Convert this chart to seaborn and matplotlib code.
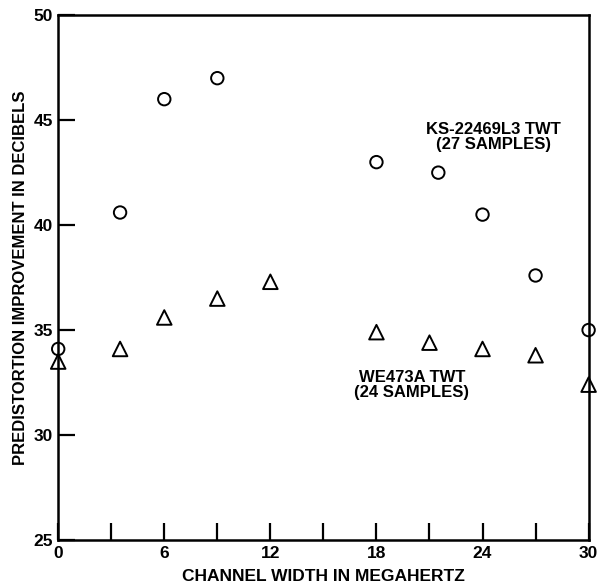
import pandas as pd
import seaborn as sns
import matplotlib.pyplot as plt

# KS-22469L3 TWT (27 samples)
ks_width = [0, 3.5, 6, 9, 18, 21.5, 24, 27, 30]
ks_db = [34.1, 40.6, 46.0, 47.0, 43.0, 42.5, 40.5, 37.6, 35.0]

# WE473A TWT (24 samples)
we_width = [0, 3.5, 6, 9, 12, 18, 21, 24, 27, 30]
we_db = [33.5, 34.1, 35.6, 36.5, 37.3, 34.9, 34.4, 34.1, 33.8, 32.4]

ks = pd.DataFrame({"width": ks_width, "db": ks_db})
we = pd.DataFrame({"width": we_width, "db": we_db})

sns.set_style("white")
plt.rcParams["font.family"] = ["Liberation Sans", "DejaVu Sans"]
plt.rcParams["text.color"] = "black"
plt.rcParams["axes.labelcolor"] = "black"
plt.rcParams["xtick.color"] = "black"
plt.rcParams["ytick.color"] = "black"

fig = plt.figure(figsize=(6, 5.85), dpi=100)
ax = fig.add_axes([0.097, 0.077, 0.884, 0.897])

sns.scatterplot(data=ks, x="width", y="db", marker="o", s=80,
                facecolors="none", edgecolor="black", linewidth=1.4,
                ax=ax, clip_on=False, zorder=3)
sns.scatterplot(data=we, x="width", y="db", marker="^", s=110,
                facecolors="none", edgecolor="black", linewidth=1.4,
                ax=ax, clip_on=False, zorder=3)

ax.set_xlim(0, 30)
ax.set_ylim(25, 50)
ax.set_xticks(range(0, 31, 3))
ax.set_xticklabels([str(v) if v % 6 == 0 else "" for v in range(0, 31, 3)])
ax.set_yticks(range(25, 51, 5))
ax.tick_params(direction="in", length=12, width=1.6, labelsize=12.5,
               bottom=True, left=True, pad=4)
for t in ax.get_xticklabels() + ax.get_yticklabels():
    t.set_fontweight("bold")

for sp in ax.spines.values():
    sp.set_linewidth(1.8)
    sp.set_color("black")

ax.set_xlabel("CHANNEL WIDTH IN MEGAHERTZ", fontsize=12.5, fontweight="bold", labelpad=6)
ax.set_ylabel("PREDISTORTION IMPROVEMENT IN DECIBELS", fontsize=12,
              fontweight="bold", labelpad=4)

ax.text(24.6, 44.2, "KS-22469L3 TWT\n(27 SAMPLES)", ha="center", va="center",
        fontsize=12, fontweight="bold", linespacing=1.0)
ax.text(20.0, 32.4, "WE473A TWT\n(24 SAMPLES)", ha="center", va="center",
        fontsize=12, fontweight="bold", linespacing=1.0)

fig.savefig("out.png", dpi=100)
